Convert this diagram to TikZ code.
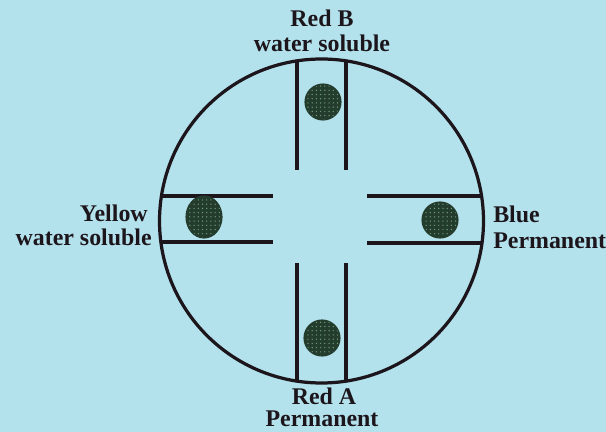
\documentclass[tikz,border=0pt]{standalone}
\usepackage{fontspec}
\setmainfont{Liberation Serif}
\usetikzlibrary{patterns}
\definecolor{paper}{RGB}{180,226,236}
\definecolor{ink}{RGB}{28,22,28}
\definecolor{spotdark}{RGB}{36,60,46}
\definecolor{spotlight}{RGB}{110,160,120}
\tikzset{
  rim/.style={draw=ink,line width=2.3pt},
  wall/.style={draw=ink,line width=2.2pt},
  spot/.style={draw=spotdark,line width=0.8pt,preaction={fill=spotdark},pattern=dots,pattern color=spotlight},
  lbl/.style={font=\bfseries\fontsize{17}{21}\selectfont,text=ink,inner sep=0pt,anchor=base}
}
\begin{document}
\begin{tikzpicture}[x=0.025cm,y=-0.025cm]
\fill[paper] (0,0) rectangle (606,432);
\useasboundingbox (0,0) rectangle (606,432);
\coordinate (ctr) at (321.5,221);
% channel walls, cut off at the rim
\begin{scope}
  \clip (ctr) circle [radius=162];
  \draw[wall] (297,40) -- (297,170);
  \draw[wall] (346,40) -- (346,170);
  \draw[wall] (297,263) -- (297,400);
  \draw[wall] (346,263) -- (346,400);
  \draw[wall] (140,196) -- (273,196);
  \draw[wall] (140,242) -- (273,242);
  \draw[wall] (367,196) -- (500,196);
  \draw[wall] (367,243) -- (500,243);
\end{scope}
\draw[rim] (ctr) circle [radius=162];
% spots
\path[spot] (323,102) circle [radius=18];
\path[spot] (204,217) ellipse [x radius=18,y radius=21];
\path[spot] (440,220) circle [radius=18];
\path[spot] (322,338) circle [radius=18];
% labels
\node[lbl] (redB) at (322,27) {Red B};
\node[lbl] (redBsol) at (322,52) {water soluble};
\node[lbl,anchor=base east] (yellow) at (148,222) {Yellow};
\node[lbl,anchor=base east] (yellowsol) at (152,246) {water soluble};
\node[lbl,anchor=base west] (blue) at (493,223) {Blue};
\node[lbl,anchor=base west] (bluepm) at (493,249) {Permanent};
\node[lbl] (redA) at (324,405) {Red A};
\node[lbl] (redApm) at (322,427) {Permanent};
\end{tikzpicture}
\end{document}
